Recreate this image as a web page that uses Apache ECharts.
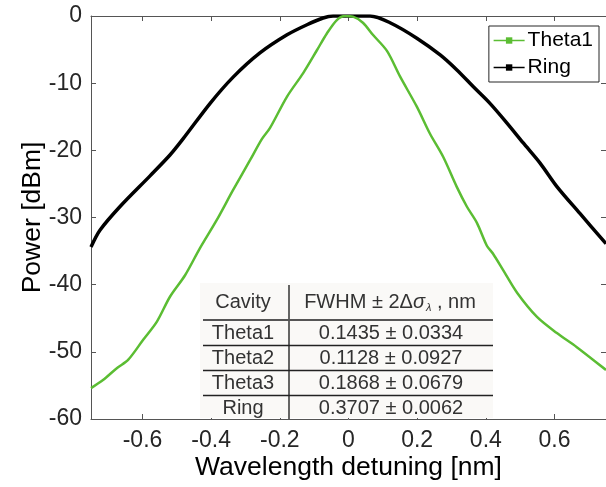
<!DOCTYPE html>
<html>
<head>
<meta charset="utf-8">
<script src="https://cdn.jsdelivr.net/npm/echarts@6/dist/echarts.min.js"></script>
<style>html,body{margin:0;padding:0;background:#fff}#c{width:606px;height:487px}</style>
</head>
<body>
<div id="c"></div>
<script>
// ---- data ----
const xTicks = [-0.6, -0.4, -0.2, 0, 0.2, 0.4, 0.6];
const yTicks = [-60, -50, -40, -30, -20, -10, 0];
const seriesNames = ['Theta1', 'Ring'];
const theta1X = [-0.750,-0.715,-0.674,-0.642,-0.598,-0.558,-0.520,-0.476,-0.433,-0.384,-0.336,-0.286,-0.252,-0.229,-0.179,-0.132,-0.092,-0.063,-0.034,-0.010,0.013,0.042,0.071,0.112,0.150,0.199,0.237,0.276,0.315,0.345,0.374,0.403,0.421,0.450,0.491,0.549,0.607,0.665,0.750];
const theta1Y = [-55.4,-54.2,-52.4,-51.2,-48.2,-45.5,-41.8,-38.6,-34.6,-30.4,-25.9,-21.4,-18.3,-16.7,-12.0,-8.5,-5.1,-2.6,-0.6,0.0,-0.1,-1.0,-2.8,-5.2,-9.0,-13.5,-17.5,-21.0,-25.4,-28.4,-30.8,-34.2,-35.4,-37.8,-41.2,-44.8,-47.2,-49.3,-52.7];
const ringX = [-0.750,-0.724,-0.666,-0.578,-0.520,-0.482,-0.403,-0.336,-0.258,-0.179,-0.121,-0.074,-0.045,0.000,0.063,0.121,0.199,0.267,0.315,0.363,0.412,0.461,0.509,0.558,0.607,0.674,0.750];
const ringY = [-34.4,-31.9,-28.4,-23.8,-20.7,-18.3,-13.0,-9.1,-5.5,-2.8,-1.3,-0.3,0.0,0.0,0.0,-1.0,-3.3,-5.8,-8.0,-10.5,-13.0,-15.9,-18.9,-21.9,-25.4,-29.4,-33.9];
const tableHeader = ['Cavity', 'FWHM ± 2Δσλ , nm'];
const tableCavity = ['Theta1', 'Theta2', 'Theta3', 'Ring'];
const tableFwhm = ['0.1435 ± 0.0334', '0.1128 ± 0.0927', '0.1868 ± 0.0679', '0.3707 ± 0.0062'];

// ---- build ----
const zip = (a, b) => a.map((v, i) => [v, b[i]]);
const FONT = 'Liberation Sans, Arial, sans-serif';
const axisColor = '#555';
const chart = echarts.init(document.getElementById('c'), null, {renderer: 'canvas'});

const L = 91, T = 16, R = 606, B = 419;
const rowYs = [333, 358, 383, 408];
const graphics = [
  {type: 'rect', shape: {x: 200, y: 283, width: 293, height: 135}, style: {fill: '#faf9f7'}, z: 100},
  {type: 'line', shape: {x1: 289, y1: 285, x2: 289, y2: 419}, style: {stroke: '#333', lineWidth: 1.5}, z: 101},
  {type: 'line', shape: {x1: 203, y1: 320, x2: 493, y2: 320}, style: {stroke: '#555', lineWidth: 2}, z: 101},
  {type: 'line', shape: {x1: 203, y1: 345.5, x2: 493, y2: 345.5}, style: {stroke: '#222', lineWidth: 1.5}, z: 101},
  {type: 'line', shape: {x1: 203, y1: 370.5, x2: 493, y2: 370.5}, style: {stroke: '#222', lineWidth: 1.5}, z: 101},
  {type: 'line', shape: {x1: 203, y1: 395.5, x2: 493, y2: 395.5}, style: {stroke: '#222', lineWidth: 1.5}, z: 101},
  {type: 'text', x: 243, y: 302, style: {text: tableHeader[0], font: '20px ' + FONT, fill: '#333', align: 'center', verticalAlign: 'middle'}, z: 102},
  {type: 'text', x: 390, y: 302, style: {
    text: '{n|FWHM ± 2Δ}{i|σ}{s|λ}{n| , nm}',
    align: 'center', verticalAlign: 'middle',
    rich: {
      n: {fontSize: 20, fontFamily: FONT, fill: '#333', color: '#333'},
      i: {fontSize: 20, fontFamily: FONT, fontStyle: 'italic', fill: '#333', color: '#333'},
      s: {fontSize: 11, fontFamily: FONT, fontStyle: 'italic', fill: '#333', color: '#333', padding: [11, 0, 0, 1]}
    }}, z: 102}
];
tableCavity.forEach((c, i) => {
  graphics.push({type: 'text', x: 243, y: rowYs[i], style: {text: c, font: '20px ' + FONT, fill: '#333', align: 'center', verticalAlign: 'middle'}, z: 102});
  graphics.push({type: 'text', x: 391, y: rowYs[i], style: {text: tableFwhm[i], font: '20px ' + FONT, fill: '#333', align: 'center', verticalAlign: 'middle'}, z: 102});
});

const axCommon = {
  type: 'value',
  axisLine: {show: true, onZero: false, lineStyle: {color: axisColor, width: 1}},
  axisTick: {show: true, inside: true, length: 5, lineStyle: {color: axisColor, width: 1}},
  splitLine: {show: false}
};

chart.setOption({
  animation: false,
  backgroundColor: '#fff',
  grid: {left: L, top: T, width: R - L, height: B - T, containLabel: false},
  legend: {
    data: seriesNames,
    orient: 'vertical',
    right: 7, top: 26,
    itemWidth: 31, itemHeight: 8, itemGap: 6,
    padding: [4, 6, 4, 4],
    lineStyle: {width: 1.5},
    borderColor: '#262626', borderWidth: 1, backgroundColor: '#fff',
    textStyle: {fontFamily: FONT, fontSize: 21, color: '#000', padding: [0, 0, 0, -2]}
  },
  xAxis: [
    Object.assign({}, axCommon, {
      min: -0.75, max: 0.75, position: 'bottom',
      name: 'Wavelength detuning [nm]', nameLocation: 'middle', nameGap: 35, nameMoveOverlap: false,
      nameTextStyle: {fontFamily: FONT, fontSize: 26.5, color: '#000'},
      axisLabel: {fontFamily: FONT, fontSize: 23, color: '#262626', margin: 10,
        customValues: xTicks, formatter: v => String(Math.round(v * 10) / 10)},
      axisTick: Object.assign({}, axCommon.axisTick, {customValues: xTicks})
    }),
    Object.assign({}, axCommon, {
      min: -0.75, max: 0.75, position: 'top',
      axisLabel: {show: false},
      axisTick: Object.assign({}, axCommon.axisTick, {customValues: xTicks})
    })
  ],
  yAxis: [
    Object.assign({}, axCommon, {
      min: -60, max: 0, interval: 10, position: 'left',
      name: 'Power [dBm]', nameLocation: 'middle', nameGap: 45, nameMoveOverlap: false,
      nameTextStyle: {fontFamily: FONT, fontSize: 26.5, color: '#000'},
      axisLabel: {fontFamily: FONT, fontSize: 23, color: '#262626', margin: 9,
        customValues: yTicks}
    }),
    Object.assign({}, axCommon, {
      min: -60, max: 0, interval: 10, position: 'right',
      axisLabel: {show: false}
    })
  ],
  series: [
    {name: seriesNames[0], type: 'line', data: zip(theta1X, theta1Y), smooth: 0.3, showSymbol: false,
      symbol: 'rect', symbolSize: 3, clip: true,
      lineStyle: {color: '#5bbd33', width: 2.5}, itemStyle: {color: '#5bbd33'}, z: 3},
    {name: seriesNames[1], type: 'line', data: zip(ringX, ringY), smooth: 0.3, showSymbol: false,
      symbol: 'rect', symbolSize: 3, clip: true,
      lineStyle: {color: '#000', width: 3.5}, itemStyle: {color: '#000'}, z: 2}
  ],
  graphic: graphics
});
</script>
</body>
</html>
